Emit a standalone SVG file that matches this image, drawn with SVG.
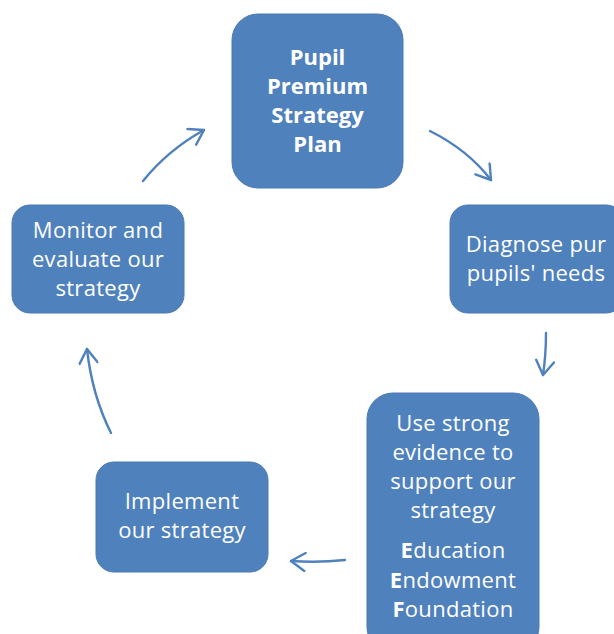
<svg xmlns="http://www.w3.org/2000/svg" width="614" height="634" viewBox="0 0 614 634">
<defs>
<marker id="arr" viewBox="0 0 20 20" refX="18" refY="10" markerWidth="20" markerHeight="20" markerUnits="userSpaceOnUse" orient="auto">
<path d="M4,1 L18,10 L4,19" fill="none" stroke="#4F81BD" stroke-width="2.4" stroke-linecap="round" stroke-linejoin="round"/>
</marker>
</defs>
<style>
.box{fill:#4F81BD;stroke:#4A7AB3;stroke-width:1}
.t{font-family:"Open Sans","Noto Sans",sans-serif;font-size:22px;letter-spacing:0.3px;fill:#fff;text-anchor:middle}
.b{font-weight:bold;letter-spacing:0}
.c{fill:none;stroke:#4F81BD;stroke-width:2.4;stroke-linecap:round;marker-end:url(#arr)}
</style>
<rect width="614" height="634" fill="#fff"/>
<g id="connectors">
<path class="c" d="M430,131 Q468,150 491,180"/>
<path class="c" d="M546,333 Q546,355 543,375"/>
<path class="c" d="M345,560 Q318,563 291,561"/>
<path class="c" d="M111,433 Q92,395 87,349"/>
<path class="c" d="M143,181 Q168,150 204,130"/>
</g>
<g id="plan">
<rect class="box" x="232" y="14" width="171" height="174" rx="26"/>
<text class="t b" x="317.5" y="65">Pupil</text>
<text class="t b" x="317.5" y="94">Premium</text>
<text class="t b" x="317.5" y="123">Strategy</text>
<text class="t b" x="317.5" y="152">Plan</text>
</g>
<g id="diagnose">
<rect class="box" x="450" y="205" width="174" height="108" rx="18"/>
<text class="t" x="536" y="252">Diagnose pur</text>
<text class="t" x="536" y="281">pupils' needs</text>
</g>
<g id="evidence">
<rect class="box" x="367" y="393" width="172" height="260" rx="26"/>
<text class="t" x="453" y="431">Use strong</text>
<text class="t" x="453" y="460">evidence to</text>
<text class="t" x="453" y="489">support our</text>
<text class="t" x="453" y="518">strategy</text>
<text class="t" x="453" y="558"><tspan font-weight="bold">E</tspan>ducation</text>
<text class="t" x="453" y="588"><tspan font-weight="bold">E</tspan>ndowment</text>
<text class="t" x="453" y="617"><tspan font-weight="bold">F</tspan>oundation</text>
</g>
<g id="implement">
<rect class="box" x="96" y="462" width="172" height="110" rx="18"/>
<text class="t" x="182" y="509">Implement</text>
<text class="t" x="182" y="538">our strategy</text>
</g>
<g id="monitor">
<rect class="box" x="12" y="205" width="172" height="108" rx="18"/>
<text class="t" x="98" y="238">Monitor and</text>
<text class="t" x="98" y="267">evaluate our</text>
<text class="t" x="98" y="296">strategy</text>
</g>
</svg>
